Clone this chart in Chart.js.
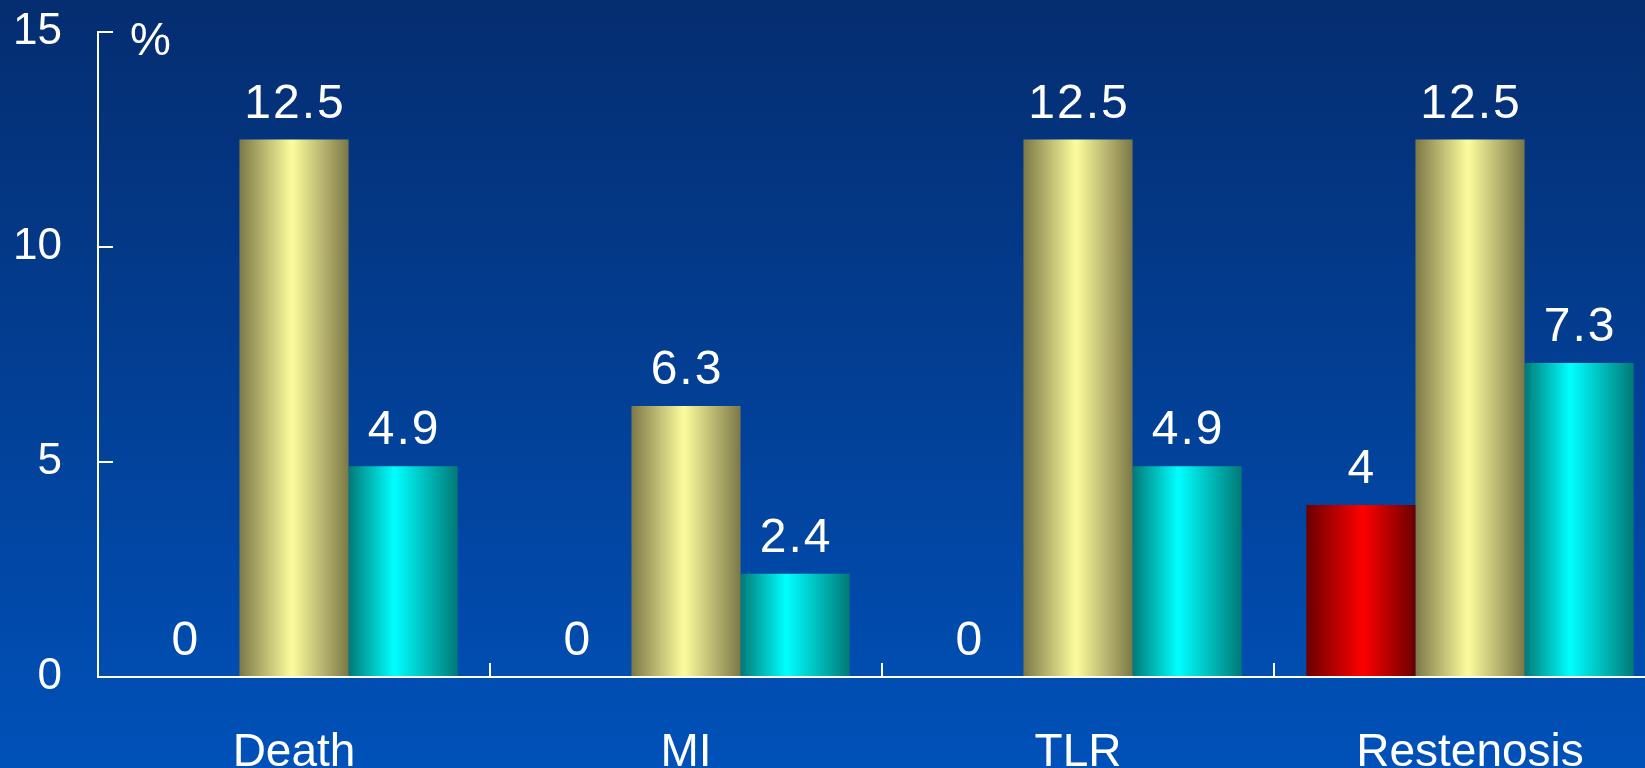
<!DOCTYPE html>
<html lang="en">
<head>
  <meta charset="UTF-8">
  <title>Clinical Outcomes</title>
  <script src="https://cdn.jsdelivr.net/npm/chart.js"></script>
  <style>
    html, body {
      margin: 0;
      padding: 0;
      overflow: hidden;
      background: #0041a0;
    }
    canvas {
      display: block;
    }
  </style>
</head>
<body>
  <canvas id="outcomeChart" width="1666" height="768"></canvas>

  <script>
    // Outcome categories and the three groups' event rates (%)
    const categories = ['Death', 'MI', 'TLR', 'Restenosis'];
    const redGroup = [0, 0, 0, 4];
    const yellowGroup = [12.5, 6.3, 12.5, 12.5];
    const cyanGroup = [4.9, 2.4, 4.9, 7.3];
    const yTicks = [0, 5, 10, 15];

    const FONT = '"Liberation Sans", Arial, sans-serif';
    const CAT_PCT = 0.835;

    // Horizontal "cylinder" shading for each bar, built from the x scale
    function shaded(stops) {
      return (ctx) => {
        const chart = ctx.chart;
        const x = chart.scales.x;
        if (!chart.chartArea || !x) return stops[1][1];
        const n = chart.data.datasets.length;
        const catW = x.width / chart.data.labels.length;
        const barW = catW * CAT_PCT / n;
        const left = x.getPixelForValue(ctx.dataIndex) - catW * CAT_PCT / 2 + ctx.datasetIndex * barW;
        const g = chart.ctx.createLinearGradient(left, 0, left + barW, 0);
        stops.forEach(s => g.addColorStop(s[0], s[1]));
        return g;
      };
    }

    const redStops = [[0, '#6a0000'], [0.52, '#ff0000'], [1, '#6a0000']];
    const yellowStops = [[0, '#7c7847'], [0.48, '#fdfd9e'], [1, '#7c7847']];
    const cyanStops = [[0, '#007a77'], [0.42, '#00ffff'], [1, '#007a77']];

    // Page background: dark navy fading to brighter blue
    const backdrop = {
      id: 'backdrop',
      beforeDraw(chart) {
        const { ctx, width, height } = chart;
        const g = ctx.createLinearGradient(0, 0, 0, height);
        g.addColorStop(0, '#052d70');
        g.addColorStop(1, '#0051b9');
        ctx.save();
        ctx.fillStyle = g;
        ctx.fillRect(0, 0, width, height);
        ctx.restore();
      }
    };

    // Value labels above the bars, plus the "%" unit at the top of the axis
    const valueLabels = {
      id: 'valueLabels',
      afterDatasetsDraw(chart) {
        const { ctx, chartArea } = chart;
        ctx.save();
        ctx.fillStyle = '#ffffff';
        ctx.font = '48px ' + FONT;
        ctx.letterSpacing = '2px';
        ctx.textAlign = 'center';
        ctx.textBaseline = 'alphabetic';
        chart.data.datasets.forEach((ds, di) => {
          chart.getDatasetMeta(di).data.forEach((bar, i) => {
            ctx.fillText(String(ds.data[i]), bar.x + 1, bar.y - 22);
          });
        });
        ctx.letterSpacing = '0px';
        ctx.font = '46px ' + FONT;
        ctx.textAlign = 'left';
        ctx.fillText('%', chartArea.left + 32, chartArea.top + 23);
        ctx.restore();
      }
    };

    new Chart(document.getElementById('outcomeChart'), {
      type: 'bar',
      data: {
        labels: categories,
        datasets: [
          { label: 'Group 1', data: redGroup, backgroundColor: shaded(redStops) },
          { label: 'Group 2', data: yellowGroup, backgroundColor: shaded(yellowStops) },
          { label: 'Group 3', data: cyanGroup, backgroundColor: shaded(cyanStops) }
        ]
      },
      options: {
        responsive: false,
        animation: false,
        events: [],
        layout: { padding: { top: 32, right: 0, bottom: 0, left: 0 } },
        datasets: {
          bar: { categoryPercentage: CAT_PCT, barPercentage: 1.0, borderWidth: 0 }
        },
        plugins: {
          legend: { display: false },
          tooltip: { enabled: false }
        },
        scales: {
          x: {
            border: { color: '#ffffff', width: 2 },
            grid: {
              offset: true,
              drawOnChartArea: false,
              color: '#ffffff',
              lineWidth: 2,
              tickLength: -14
            },
            ticks: {
              color: '#ffffff',
              font: { family: FONT, size: 46 },
              padding: 63,
              maxRotation: 0
            },
            afterFit(scale) { scale.height = 91; }
          },
          y: {
            min: 0,
            max: 15,
            border: { color: '#ffffff', width: 2 },
            grid: {
              drawOnChartArea: false,
              color: '#ffffff',
              lineWidth: 2,
              tickLength: -15
            },
            afterBuildTicks(scale) {
              scale.ticks = yTicks.map(v => ({ value: v }));
            },
            ticks: {
              color: '#ffffff',
              font: { family: FONT, size: 44 },
              padding: 51
            },
            afterFit(scale) {
              scale.width = 98;
              // the large label padding should not push the plot down
              scale.paddingTop = 0;
              scale.paddingBottom = 0;
            }
          }
        }
      },
      plugins: [backdrop, valueLabels]
    });
  </script>
</body>
</html>
